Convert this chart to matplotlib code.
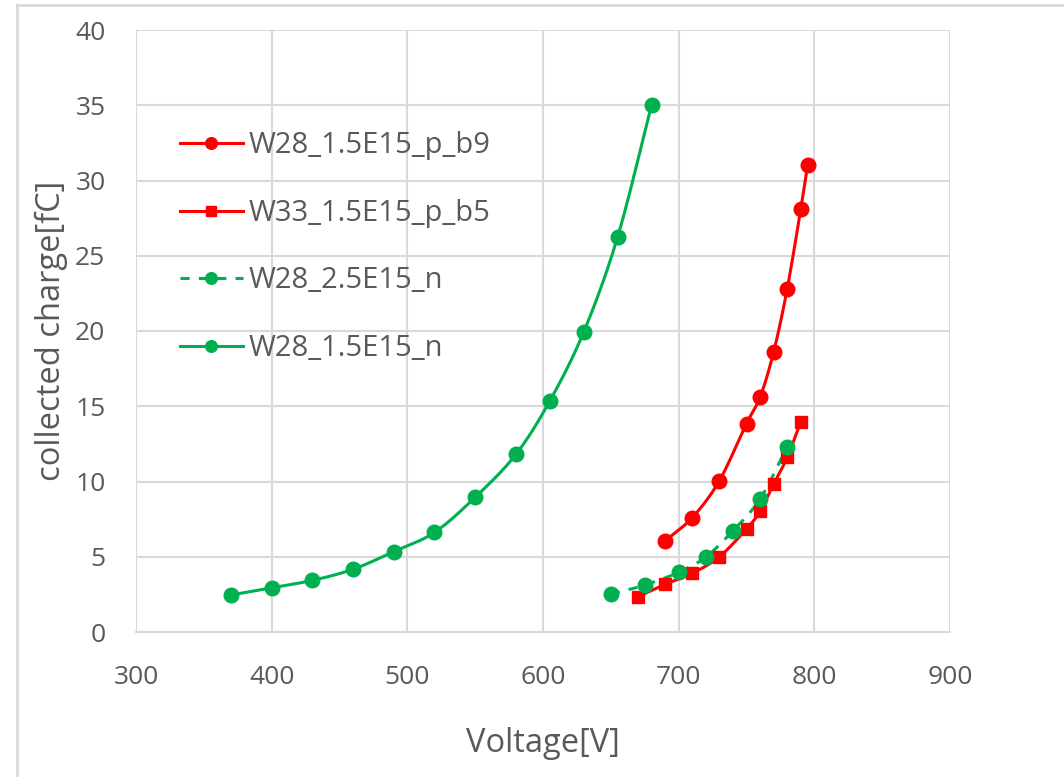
import numpy as np
import matplotlib
matplotlib.use("Agg")
from matplotlib import pyplot as plt
from matplotlib.lines import Line2D


# values
v_p_b9 = [690, 710, 730, 750, 760, 770, 780, 790, 795]
q_p_b9 = [6.05, 7.6, 10.05, 13.85, 15.6, 18.6, 22.8, 28.1, 31.0]

v_p_b5 = [670, 690, 710, 730, 750, 760, 770, 780, 790]
q_p_b5 = [2.35, 3.17, 3.9, 5.0, 6.85, 8.02, 9.83, 11.6, 13.97]

v_n25 = [650, 675, 700, 720, 740, 760, 780]
q_n25 = [2.52, 3.12, 3.97, 4.98, 6.73, 8.84, 12.3]

v_n15 = [370, 400, 430, 460, 490, 520, 550, 580, 605, 630, 655, 680]
q_n15 = [2.46, 2.94, 3.43, 4.17, 5.34, 6.62, 8.95, 11.8, 15.35, 19.93, 26.25, 35.0]

labels = ["W28_1.5E15_p_b9", "W33_1.5E15_p_b5", "W28_2.5E15_n", "W28_1.5E15_n"]


# excel style smoothed line (catmull-rom through the points)
def smooth(x, y, n=20):
    x = np.asarray(x, float)
    y = np.asarray(y, float)
    px = np.concatenate([[2*x[0]-x[1]], x, [2*x[-1]-x[-2]]])
    py = np.concatenate([[2*y[0]-y[1]], y, [2*y[-1]-y[-2]]])
    xs, ys = [], []
    t = np.linspace(0, 1, n)
    for i in range(1, len(px)-2):
        for p, out in ((px, xs), (py, ys)):
            p0, p1, p2, p3 = p[i-1], p[i], p[i+1], p[i+2]
            out.append(0.5*((2*p1) + (-p0+p2)*t + (2*p0-5*p1+4*p2-p3)*t**2
                            + (-p0+3*p1-3*p2+p3)*t**3))
    return np.concatenate(xs), np.concatenate(ys)


plt.rcParams['font.family'] = ['Open Sans', 'DejaVu Sans']
red = '#FF0000'
green = '#00B050'
grey = '#595959'

fig = plt.figure(figsize=(10.64, 7.77), dpi=100)
ax = fig.add_axes([136/1064, 1-632/777, (950-136)/1064, (632-30)/777])

series = [
    (v_p_b9, q_p_b9, red, 'o', '-'),
    (v_p_b5, q_p_b5, red, 's', '-'),
    (v_n25, q_n25, green, 'o', (0, (3, 3))),
    (v_n15, q_n15, green, 'o', '-'),
]
for (x, y, c, m, ls), lab in zip(series, labels):
    sx, sy = smooth(x, y)
    ax.plot(sx, sy, color=c, lw=2.2, ls=ls, zorder=3)
    ms = 10.5 if m == 'o' else 8.5
    ax.plot(x, y, ls='none', marker=m, ms=ms, color=c, zorder=4)
    ax.plot([], [], color=c, lw=2.2, ls=ls, marker=m, ms=ms*0.8, label=lab)

ax.set_xlim(300, 900)
ax.set_ylim(0, 40)
ax.set_xticks(range(300, 901, 100))
ax.set_yticks(range(0, 41, 5))
ax.grid(True, color='#d9d9d9', lw=1.5)
ax.set_axisbelow(True)
for s in ['top', 'right', 'left']:
    ax.spines[s].set_visible(False)
ax.spines['bottom'].set_color('#d9d9d9')
ax.spines['bottom'].set_linewidth(1.5)
ax.tick_params(length=0, labelsize=19, colors=grey)
ax.tick_params(axis='x', pad=23.5)
ax.tick_params(axis='y', pad=22)
ax.set_xlabel('Voltage[V]', fontsize=23.5, color=grey, labelpad=27)
ax.set_ylabel('collected charge[fC]', fontsize=23.5, color=grey)
ax.yaxis.set_label_coords(-0.0835, 0.5)

leg = ax.legend(loc='upper left', bbox_to_anchor=(0.0215, 0.875), frameon=False,
                fontsize=21, labelspacing=1.32, handlelength=2.16, handletextpad=0.2,
                labelcolor=grey)

# chart border (only left and top edges show in the crop)
bx, by = 17/1064, 1-5/777
fig.add_artist(Line2D([bx, bx], [0, by], transform=fig.transFigure, color='#d9d9d9', lw=2))
fig.add_artist(Line2D([bx, 1], [by, by], transform=fig.transFigure, color='#d9d9d9', lw=2))

fig.savefig('out.png', dpi=100)
